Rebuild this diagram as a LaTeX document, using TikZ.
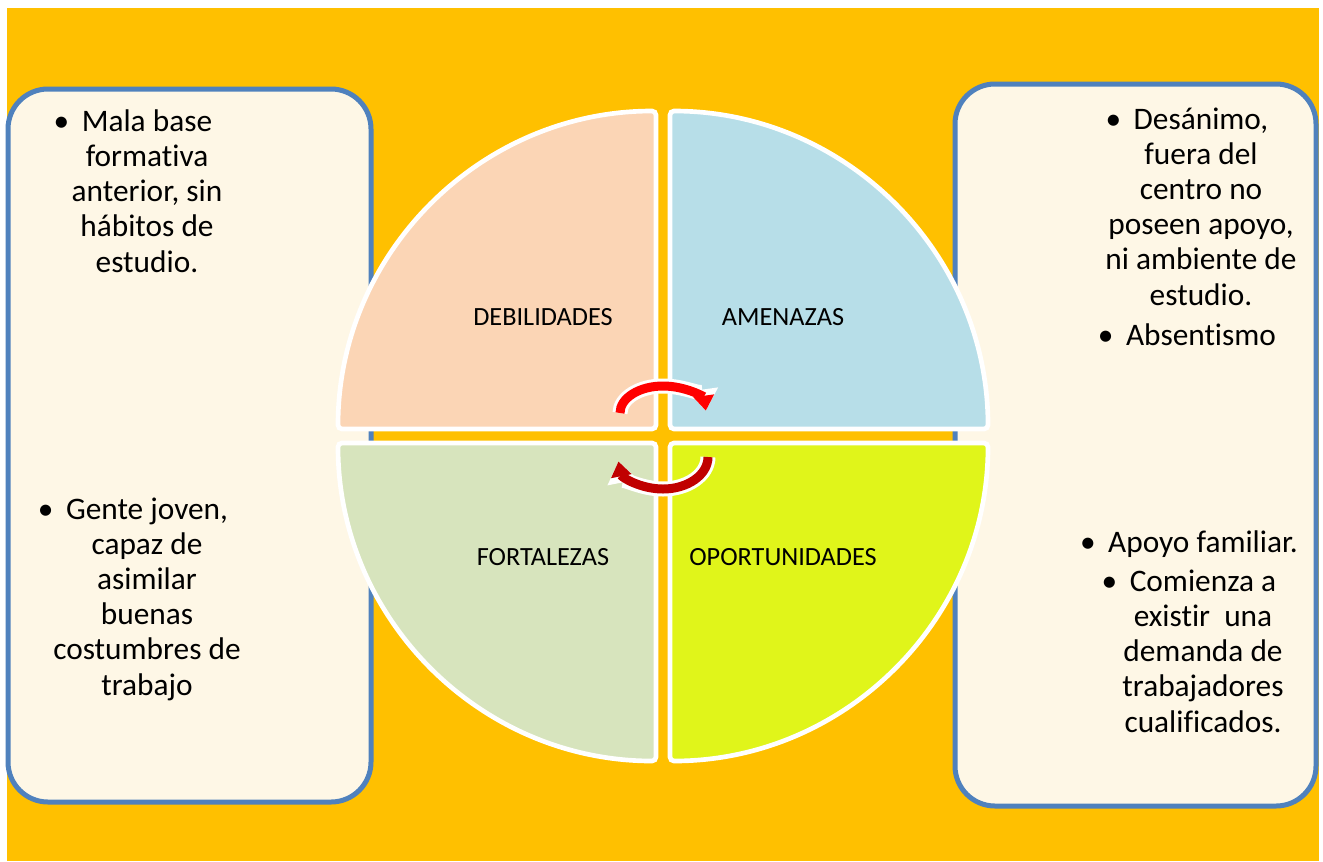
\documentclass[tikz,border=0pt]{standalone}
\usepackage{fontspec}
\setmainfont{Carlito}[RawFeature={-liga;-rlig;-clig;-calt;-dlig}]
\usetikzlibrary{arrows.meta}
\definecolor{fondo}{HTML}{FFC000}
\definecolor{crema}{HTML}{FEF7E6}
\definecolor{marco}{HTML}{4F81BD}
\definecolor{debil}{HTML}{FBD5B5}
\definecolor{amenaza}{HTML}{B7DEE8}
\definecolor{fuerte}{HTML}{D7E4BD}
\definecolor{oportun}{HTML}{E0F51A}
\definecolor{rojo}{HTML}{FF0000}
\definecolor{granate}{HTML}{C00000}
\newcommand{\punto}{\llap{\textbullet\hspace{0.4em}}}

\begin{document}
\begin{tikzpicture}[x=0.75pt, y=-0.75pt,
    caja/.style={draw=marco, line width=3.75pt, fill=crema, rounded corners=30pt},
    cuarto/.style={draw=white, line width=3.5pt, rounded corners=3pt},
    lista/.style={align=center, anchor=base, inner sep=0pt, font=\fontsize{23.5}{26.4}\selectfont},
    rotulo/.style={inner sep=0pt, font=\fontsize{19.7}{23}\selectfont}]
			%%%%% START %%%%%
			
			\useasboundingbox[fill=white] (0, 0) rectangle (1323, 861);
			\fill[fondo] (7, 8) rectangle (1319, 861);
			
			\draw[caja] (8, 89) rectangle (371, 802);
			\draw[caja] (955, 84) rectangle (1316, 806);
			
			\draw[cuarto, fill=debil] (656, 429) -- (338, 429) arc[start angle=180, end angle=270, radius=318] -- cycle;
			\draw[cuarto, fill=amenaza] (670, 429) -- (670, 111) arc[start angle=270, end angle=360, radius=318] -- cycle;
			\draw[cuarto, fill=fuerte] (656, 443) -- (338, 443) arc[start angle=180, end angle=90, radius=318] -- cycle;
			\draw[cuarto, fill=oportun] (670, 443) -- (988, 443) arc[start angle=0, end angle=90, radius=318] -- cycle;
			
			\node[rotulo] (deb) at (543, 317) {DEBILIDADES};
			\node[rotulo] (ame) at (783, 317) {AMENAZAS};
			\node[rotulo] (fort) at (543, 557) {FORTALEZAS};
			\node[rotulo] (opor) at (783, 557) {OPORTUNIDADES};
			
			\draw[white, line width=11.25pt, line join=round, -{Triangle[width=22pt, length=16pt]}] (620, 413) arc[start angle=180, end angle=355, x radius=43, y radius=27];
			\draw[rojo, line width=6.75pt, -{Triangle[width=15pt, length=11.25pt]}] (620, 413) arc[start angle=180, end angle=355, x radius=43, y radius=27];
			\draw[white, line width=11.25pt, line join=round, -{Triangle[width=22pt, length=16pt]}] (708, 457) arc[start angle=0, end angle=172, x radius=45, y radius=32];
			\draw[granate, line width=6.75pt, -{Triangle[width=15pt, length=11.25pt]}] (708, 457) arc[start angle=0, end angle=172, x radius=45, y radius=32];
			
			% base = last line
			\node[lista] (debtxt) at (147, 272) {\punto Mala base\\ formativa\\ anterior, sin\\ hábitos de\\ estudio.};
			\node[lista] (forttxt) at (147, 695) {\punto Gente joven,\\ capaz de\\ asimilar\\ buenas\\ costumbres de\\ trabajo};
			\node[lista] (ametxt) at (1201, 345) {\punto Desánimo,\\ fuera del\\ centro no\\ poseen apoyo,\\ ni ambiente de\\ estudio.\\[3.5pt] \punto Absentismo};
			\node[lista] (oportxt) at (1203, 732) {\punto Apoyo familiar.\\[3pt] \punto Comienza a\\ existir~ una\\ demanda de\\ trabajadores\\ cualificados.};
			
			%%%%% END %%%%%
\end{tikzpicture}
\end{document}
